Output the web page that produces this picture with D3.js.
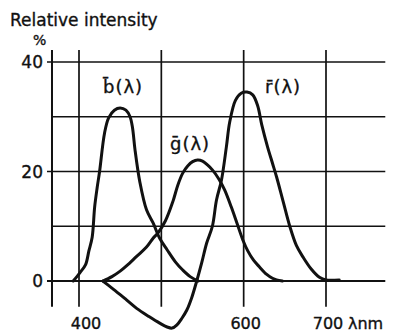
<!DOCTYPE html>
<html>
<script src="https://d3js.org/d3.v7.min.js"></script>
<style>
  body { margin: 0; background: #fff; }
  text { font-family: "DejaVu Sans", sans-serif; fill: #111; stroke: #111; stroke-width: 0.35px; }
</style>
<body>
<div id="chart"></div>

<script>
    // wavelength (nm), relative intensity (%)
    var bBar = [[393,0],[401,1.5],[408,3],[412,5.5],[416,8],[419,13.5],[422,17],[425,20],[431,27],[436,29.8],
        [443,31.2],[450,31.6],[457,31.2],[462,30],[465,28],[468,24],[474,18],[482,13],[490,10.6],[498,7.8],
        [507,5.7],[517,3.5],[526,2],[535,0.8],[545,0]];
    var gBar = [[429,0],[440,0.8],[450,1.8],[458,2.8],[470,4.5],[482,6.2],[490,7.8],[496,8.8],[505,11],[514,14.5],
        [520,17.5],[526,19.7],[532,21],[538,21.8],[544,22.1],[550,21.9],[556,21.2],[562,20.3],[570,18.6],[577,16.6],
        [585,13.5],[592,10.5],[599,7.5],[605,5.5],[612,3.8],[619,2.6],[628,1.2],[635,0.5],[640,0.2],[647,0]];
    var rBar = [[429,0],[440,-1.3],[450,-2.5],[458,-3.5],[470,-5],[485,-6.5],[498,-7.7],[507,-8.4],[513,-8.6],
        [519,-8],[525,-6.8],[531,-5.3],[537,-3],[543,0],[549,3.3],[555,6.9],[562,10],[567,14.8],[573,18.4],
        [579,24.5],[583,29],[590,33],[597,34.3],[604,34.5],[611,34],[617,32],[622,28.5],[629,24.5],[635,21.5],
        [640,19],[648,14.5],[656,10],[664,6.5],[672,4.4],[682,2.2],[692,0.7],[700,0.2],[716,0.2]];

    var xTicks = [400, 500, 600, 700];
    var xLabels = ["400", "", "600", "700"];
    var yTicks = [0, 10, 20, 30, 40];
    var yLabels = ["0", "", "20", "", "40"];

    var svg = d3.select("#chart")
        .append("svg")
        .attr("width", 396)
        .attr("height", 334);

    var x = d3.scaleLinear().domain([400, 700]).range([79, 326]);
    var y = d3.scaleLinear().domain([0, 40]).range([281, 62]);

    var xMin = 367.2, xMax = 772;   // wavelength span of the grid
    var yMin = -4.7, yMax = 42.2;   // intensity span of the grid

    // horizontal grid
    svg.selectAll(".hgrid")
        .data(yTicks)
        .enter().append("line")
        .attr("x1", (d, i) => yLabels[i] ? x(xMin) - 5 : x(xMin))
        .attr("x2", x(xMax))
        .attr("y1", d => y(d))
        .attr("y2", d => y(d))
        .attr("stroke", "#111")
        .attr("stroke-width", d => d == 0 ? 2 : 1.7);

    // vertical grid
    svg.selectAll(".vgrid")
        .data(xTicks)
        .enter().append("line")
        .attr("x1", d => x(d))
        .attr("x2", d => x(d))
        .attr("y1", y(yMax))
        .attr("y2", y(yMin))
        .attr("stroke", "#111")
        .attr("stroke-width", 1.7);

    // left axis
    svg.append("line")
        .attr("x1", x(xMin)).attr("x2", x(xMin))
        .attr("y1", y(yMax)).attr("y2", y(yMin))
        .attr("stroke", "#111")
        .attr("stroke-width", 2);

    // curves
    var line = d3.line()
        .x(d => x(d[0]))
        .y(d => y(d[1]))
        .curve(d3.curveCatmullRom);

    [bBar, gBar, rBar].forEach(function (s) {
        svg.append("path")
            .attr("d", line(s))
            .attr("fill", "none")
            .attr("stroke", "#111")
            .attr("stroke-width", 3)
            .attr("stroke-linejoin", "round")
            .attr("stroke-linecap", "round");
    });

    // tick labels
    svg.selectAll(".ylab")
        .data(yTicks)
        .enter().append("text")
        .attr("x", 43)
        .attr("y", d => y(d) + 6)
        .attr("text-anchor", "end")
        .style("font-size", "17px")
        .text((d, i) => yLabels[i]);

    svg.selectAll(".xlab")
        .data(xTicks)
        .enter().append("text")
        .attr("x", d => x(d) + (d == 400 ? 7 : 2))
        .attr("y", 329)
        .attr("text-anchor", "middle")
        .style("font-size", "16px")
        .text((d, i) => xLabels[i]);

    svg.append("text")
        .attr("x", 348).attr("y", 329)
        .style("font-size", "16px")
        .text("λnm");

    svg.append("text")
        .attr("x", 10).attr("y", 26)
        .style("font-size", "17px")
        .text("Relative intensity");

    svg.append("text")
        .attr("x", 33).attr("y", 45)
        .style("font-size", "14px")
        .text("%");

    // curve names
    svg.append("text").attr("x", 103).attr("y", 93).style("font-size", "18px").style("letter-spacing", "1px").text("b\u0304(λ)");
    svg.append("text").attr("x", 170).attr("y", 150).style("font-size", "18px").style("letter-spacing", "1px").text("g\u0304(λ)");
    svg.append("text").attr("x", 265).attr("y", 93).style("font-size", "18px").style("letter-spacing", "1px").text("r\u0304(λ)");
</script>

</body>
</html>
